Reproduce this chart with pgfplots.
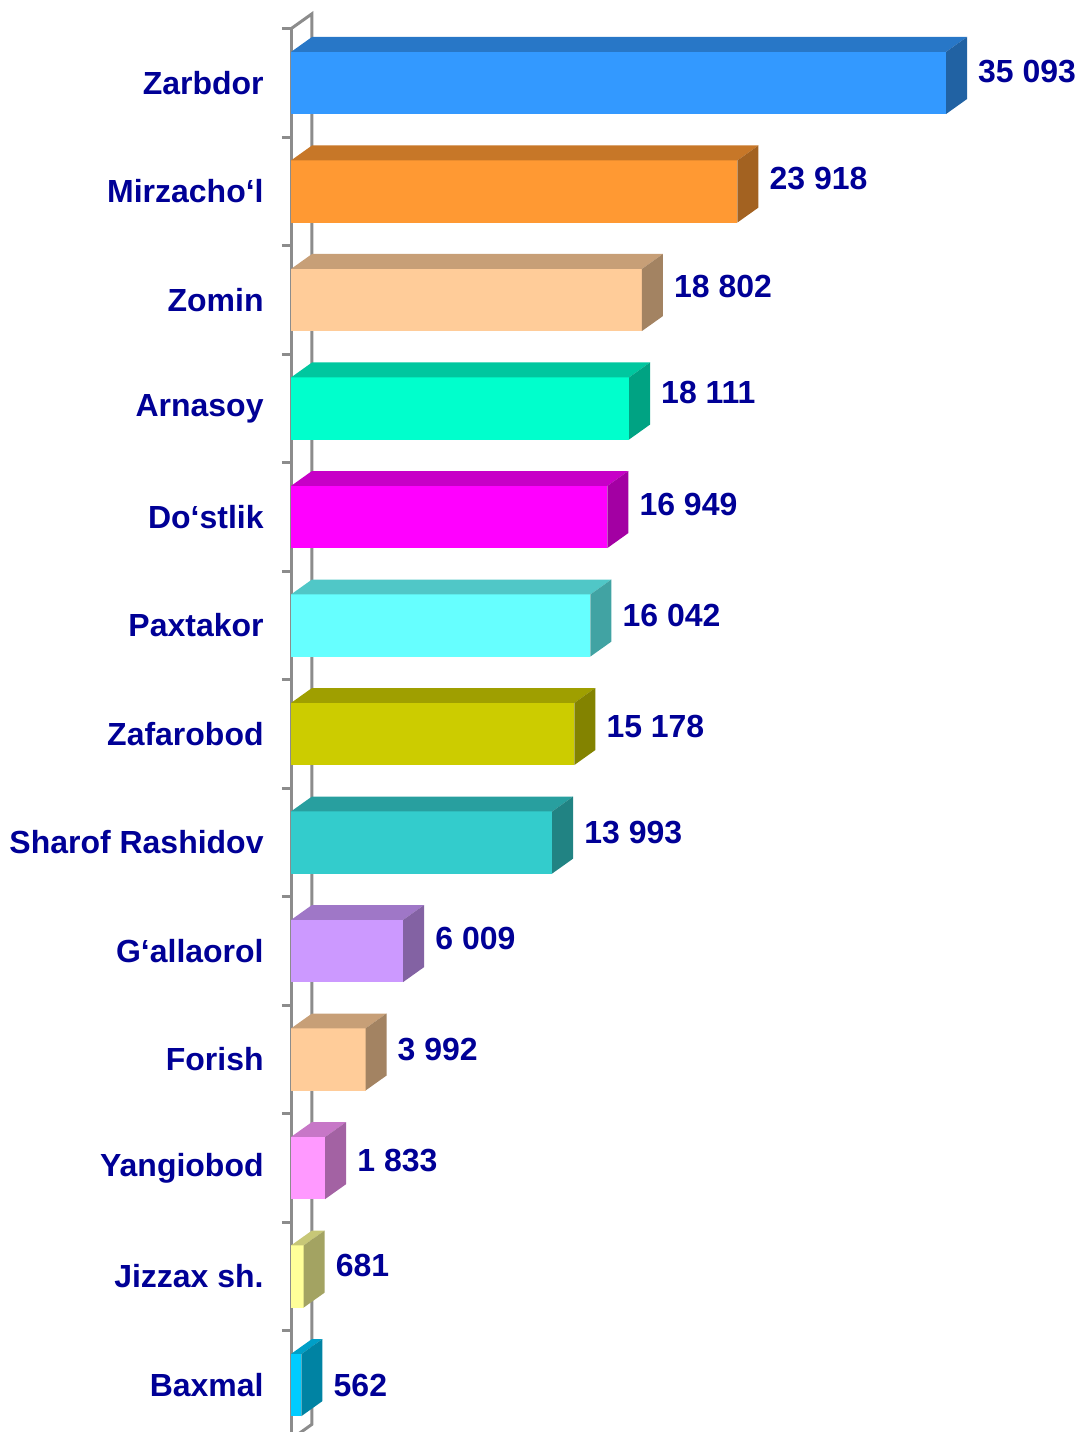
\documentclass[border=0pt]{standalone}
\usepackage{pgfplots}
\pgfplotsset{compat=1.18}
\usepackage{pgfplotstable}
\usepackage{fontspec}
\setmainfont{Liberation Sans}
\definecolor{lab}{RGB}{0,0,150}
\definecolor{axg}{RGB}{140,140,140}
\definecolor{c1}{HTML}{3399FF}
\definecolor{c2}{HTML}{FF9933}
\definecolor{c3}{HTML}{FFCC99}
\definecolor{c4}{HTML}{00FFCC}
\definecolor{c5}{HTML}{FF00FF}
\definecolor{c6}{HTML}{66FFFF}
\definecolor{c7}{HTML}{CCCC00}
\definecolor{c8}{HTML}{33CCCC}
\definecolor{c9}{HTML}{CC99FF}
\definecolor{c10}{HTML}{FFCC99}
\definecolor{c11}{HTML}{FF99FF}
\definecolor{c12}{HTML}{FFFF99}
\definecolor{c13}{HTML}{00CCFF}

% #1 category index, #2 value in thousands, #3 front colour
\newcommand\tdbar[3]{%
 \pgfmathsetmacro\ya{#1-0.286}%
 \pgfmathsetmacro\yb{#1+0.286}%
 \pgfmathsetmacro\yc{#1-0.286-0.138}%
 \pgfmathsetmacro\yd{#1+0.286-0.138}%
 \pgfmathsetmacro\xw{#2+1.125}%
 \edef\tmp{%
  \noexpand\addplot[fill=#3,draw=none,mark=none] coordinates {(0,\ya) (#2,\ya) (#2,\yb) (0,\yb)};
  \noexpand\addplot[fill=#3!78!black,draw=none,mark=none] coordinates {(0,\ya) (#2,\ya) (\xw,\yc) (1.125,\yc)};
  \noexpand\addplot[fill=#3!64!black,draw=none,mark=none] coordinates {(#2,\ya) (\xw,\yc) (\xw,\yd) (#2,\yb)};}%
 \tmp}

\pgfplotstableread[col sep=comma,row sep=\\]{
ly,xv,lab\\
-0.106,35.093,35 093\\
0.876,23.918,23 918\\
1.871,18.802,18 802\\
2.848,18.111,18 111\\
3.889,16.949,16 949\\
4.912,16.042,16 042\\
5.935,15.178,15 178\\
6.912,13.993,13 993\\
7.889,6.009,6 009\\
8.912,3.992,3 992\\
9.935,1.833,1 833\\
10.903,0.681,681\\
12.0,0.562,562\\
}\labtab

\begin{document}
\begin{tikzpicture}
\useasboundingbox (0,0) rectangle (107.8mm,143.2mm);
\begin{axis}[
  at={(29.1mm,-0.725mm)}, anchor=south west,
  scale only axis, width=78.393mm, height=141.05mm,
  xmin=0, xmax=42, ymin=-0.5, ymax=12.5,
  y dir=reverse, clip=false,
  axis lines*=left,
  x axis line style={draw=none},
  y axis line style={axg, line width=0.3mm},
  xtick=\empty,
  ytick={0,...,12},
  yticklabels={Zarbdor, Mirzacho‘l, Zomin, Arnasoy, Do‘stlik, Paxtakor, Zafarobod, Sharof Rashidov, G‘allaorol, Forish, Yangiobod, Jizzax sh., Baxmal},
  minor ytick={-0.5,0.5,...,12.5},
  ytick pos=left, tick align=outside,
  major tick length=0pt, minor tick length=0.9mm,
  every tick/.style={axg, line width=0.3mm},
  yticklabel style={font=\fontsize{9.1}{10}\selectfont\bfseries, text=lab, xshift=-1.5mm},
]
\addplot[axg, line width=0.3mm, mark=none] coordinates {(0,-0.5) (1.125,-0.638) (1.125,12.362) (0,12.5)};
\tdbar{0}{35.093}{c1}
\tdbar{1}{23.918}{c2}
\tdbar{2}{18.802}{c3}
\tdbar{3}{18.111}{c4}
\tdbar{4}{16.949}{c5}
\tdbar{5}{16.042}{c6}
\tdbar{6}{15.178}{c7}
\tdbar{7}{13.993}{c8}
\tdbar{8}{6.009}{c9}
\tdbar{9}{3.992}{c10}
\tdbar{10}{1.833}{c11}
\tdbar{11}{0.681}{c12}
\tdbar{12}{0.562}{c13}
\addplot[draw=none, mark=none, nodes near coords, point meta=explicit symbolic,
  nodes near coords style={anchor=west, inner sep=0pt, xshift=1.05mm, font=\fontsize{9.1}{10}\selectfont\bfseries, text=lab}]
  table[x expr=\thisrow{xv}+1.125, y=ly, meta=lab] {\labtab};
\end{axis}
\end{tikzpicture}
\end{document}
